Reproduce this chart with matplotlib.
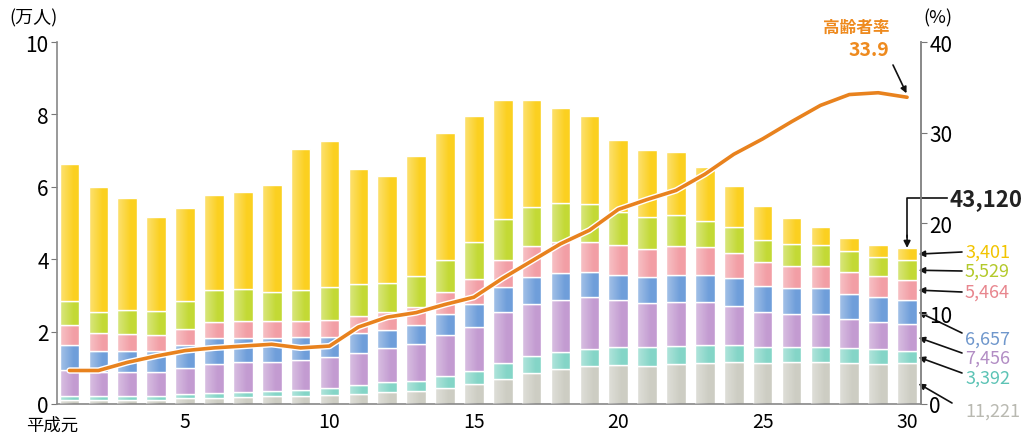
import numpy as np
import matplotlib
matplotlib.use("Agg")
import matplotlib.pyplot as plt
import matplotlib.patheffects as pe

plt.rcParams["font.family"] = ["Noto Sans CJK JP", "DejaVu Sans"]

# 平成元年〜30年
years = list(range(1, 31))
tick_years = [5, 10, 15, 20, 25, 30]

# 年齢層別の人数（万人）、下から順に積み上げ
gray = [0.10, 0.12, 0.12, 0.12, 0.16, 0.16, 0.18, 0.21, 0.23, 0.25,
        0.28, 0.32, 0.37, 0.43, 0.55, 0.69, 0.86, 0.97, 1.04, 1.08,
        1.06, 1.10, 1.13, 1.17, 1.13, 1.15, 1.17, 1.13, 1.10, 1.1221]
teal = [0.12, 0.09, 0.09, 0.09, 0.12, 0.14, 0.14, 0.16, 0.17, 0.18,
        0.24, 0.28, 0.27, 0.34, 0.37, 0.44, 0.46, 0.47, 0.48, 0.49,
        0.51, 0.49, 0.50, 0.46, 0.44, 0.42, 0.40, 0.41, 0.42, 0.3392]
purple = [0.73, 0.67, 0.67, 0.67, 0.71, 0.80, 0.83, 0.80, 0.82, 0.86,
          0.89, 0.94, 1.02, 1.14, 1.20, 1.40, 1.44, 1.44, 1.43, 1.31,
          1.22, 1.24, 1.20, 1.09, 0.98, 0.92, 0.92, 0.81, 0.75, 0.7456]
blue = [0.68, 0.59, 0.59, 0.59, 0.64, 0.71, 0.66, 0.64, 0.62, 0.55,
        0.55, 0.51, 0.52, 0.58, 0.64, 0.69, 0.74, 0.74, 0.70, 0.68,
        0.71, 0.73, 0.73, 0.75, 0.72, 0.71, 0.71, 0.69, 0.68, 0.6657]
pink = [0.55, 0.48, 0.46, 0.44, 0.44, 0.46, 0.49, 0.49, 0.46, 0.49,
        0.46, 0.48, 0.49, 0.60, 0.69, 0.77, 0.86, 0.85, 0.83, 0.83,
        0.78, 0.81, 0.77, 0.70, 0.64, 0.62, 0.60, 0.60, 0.58, 0.5464]
green = [0.67, 0.60, 0.67, 0.67, 0.78, 0.89, 0.88, 0.80, 0.86, 0.89,
         0.89, 0.81, 0.86, 0.90, 1.02, 1.12, 1.07, 1.08, 1.04, 0.92,
         0.90, 0.85, 0.73, 0.71, 0.63, 0.60, 0.59, 0.60, 0.52, 0.5529]
yellow = [3.78, 3.45, 3.08, 2.60, 2.56, 2.61, 2.69, 2.95, 3.89, 4.05,
          3.18, 2.97, 3.31, 3.49, 3.49, 3.30, 2.98, 2.62, 2.44, 1.99,
          1.85, 1.73, 1.48, 1.13, 0.92, 0.71, 0.51, 0.36, 0.35, 0.3401]

# 高齢者率（%）
elderly_rate = [3.7, 3.7, 4.6, 5.3, 5.9, 6.2, 6.4, 6.6, 6.2, 6.4,
                8.5, 9.6, 10.1, 11.0, 11.8, 13.9, 15.8, 17.7, 19.2, 21.5,
                22.6, 23.6, 25.4, 27.6, 29.3, 31.2, 33.0, 34.2, 34.4, 33.9]

last_counts = ["3,401", "5,529", "5,464", "6,657", "7,456", "3,392", "11,221"]
total_label = "43,120"

series = [gray, teal, purple, blue, pink, green, yellow]
fills = ["#CDCDC3", "#84D5C7", "#C39BD1", "#6F9EDA", "#F29EA5", "#C3D935", "#FBD020"]
label_colors = ["#F2C400", "#B3C92A", "#E8868E", "#6F97CC", "#B28DC4", "#5CC3B5", "#B9B9B1"]

W = 0.68

fig = plt.figure(figsize=(10.26, 4.35), dpi=100)
ax = fig.add_axes([0.0556, 0.069, 0.842, 0.832])

bottom = np.zeros(len(years))
mids = []
for vals, col in zip(series, fills):
    ax.bar(years, vals, bottom=bottom, width=W, color=col,
           edgecolor="white", linewidth=1.0, zorder=2)
    mids.append(bottom + np.array(vals) / 2)
    bottom = bottom + np.array(vals)

# 棒の左側を少し明るくする
shade = np.zeros((1, 64, 4))
shade[..., :3] = 1.0
shade[0, :, 3] = np.clip(0.38 * (1 - np.linspace(0, 1, 64) / 0.7), 0, None)
for x, h in zip(years, bottom):
    ax.imshow(shade, extent=(x - W / 2, x + W / 2, 0, h), aspect="auto",
              interpolation="bilinear", zorder=3)

ax.set_xlim(0.567, 30.48)
ax.set_ylim(0, 10)
ax.set_yticks([0, 2, 4, 6, 8, 10])
ax.tick_params(axis="y", labelsize=15, length=4, color="#777777", pad=2)
ax.set_xticks(tick_years)
ax.set_xticklabels([str(t) for t in tick_years])
ax.tick_params(axis="x", labelsize=14, length=0, pad=5)
ax.text(1.3, -0.056, "平成元", transform=ax.get_xaxis_transform(),
        ha="right", va="center", fontsize=12.5)

ax.spines["top"].set_visible(False)
for s in ["left", "right", "bottom"]:
    ax.spines[s].set_color("#888888")
    ax.spines[s].set_linewidth(1.2)

ax2 = ax.twinx()
ax2.set_ylim(0, 40)
ax2.set_yticks([0, 10, 20, 30, 40])
ax2.tick_params(axis="y", labelsize=15, length=4, color="#777777", pad=2)
for s in ["top", "left", "bottom"]:
    ax2.spines[s].set_visible(False)
ax2.spines["right"].set_color("#888888")
ax2.spines["right"].set_linewidth(1.2)

ax2.plot(years, elderly_rate, color="#E8821E", linewidth=2.6, zorder=5,
         solid_capstyle="round",
         path_effects=[pe.Stroke(linewidth=4.6, foreground="white"), pe.Normal()])

fig.text(9 / 1026, 1 - 18 / 435, "(万人)", fontsize=13, va="center", ha="left")
fig.text(923 / 1026, 1 - 18 / 435, "(%)", fontsize=13, va="center", ha="left")

fig.text(889 / 1026, 1 - 28 / 435, "高齢者率", fontsize=12, color="#EE8A1E",
         ha="right", va="center", fontweight="bold")
fig.text(889 / 1026, 1 - 51 / 435, f"{elderly_rate[-1]:.1f}", fontsize=14,
         color="#EE8A1E", ha="right", va="center", fontweight="bold")
ax2.annotate("", xy=(years[-1], elderly_rate[-1] + 0.3), xycoords="data",
             xytext=(893, 435 - 66), textcoords="figure pixels",
             arrowprops=dict(arrowstyle="-|>", color="#111111", lw=1.2,
                             mutation_scale=9, shrinkA=0, shrinkB=1))

# 平成30年の合計と内訳
xe = years[-1]
y_total = 5.7
fig.text(949 / 1026, 1 - 200 / 435, total_label, fontsize=16, fontweight="bold",
         ha="left", va="center", color="#222222")
ax.plot([31.38, xe, xe], [y_total, y_total, bottom[-1] + 0.3], color="#111111",
        lw=1.2, clip_on=False, zorder=6)
ax.annotate("", xy=(xe, bottom[-1]), xytext=(xe, bottom[-1] + 0.35),
            arrowprops=dict(arrowstyle="-|>", color="#111111", lw=1.2,
                            mutation_scale=10, shrinkA=0, shrinkB=0),
            zorder=6)

label_y = [253, 272, 293, 340, 359, 379, 412]
tail_y = [253, 272, 293, 334, 354, 374, 404]
order = [6, 5, 4, 3, 2, 1, 0]
for k, idx in enumerate(order):
    mid = mids[idx][-1]
    ax.annotate("", xy=(xe + 0.4, mid), xycoords="data",
                xytext=(962 if k < 6 else 952, 435 - tail_y[k]),
                textcoords="figure pixels",
                arrowprops=dict(arrowstyle="-|>", color="#111111", lw=1.2,
                                mutation_scale=9, shrinkA=0, shrinkB=0),
                annotation_clip=False)
    fig.text(965 / 1026, 1 - label_y[k] / 435, last_counts[k], fontsize=13,
             color=label_colors[k], ha="left", va="center")

fig.savefig("out.png", dpi=100)
